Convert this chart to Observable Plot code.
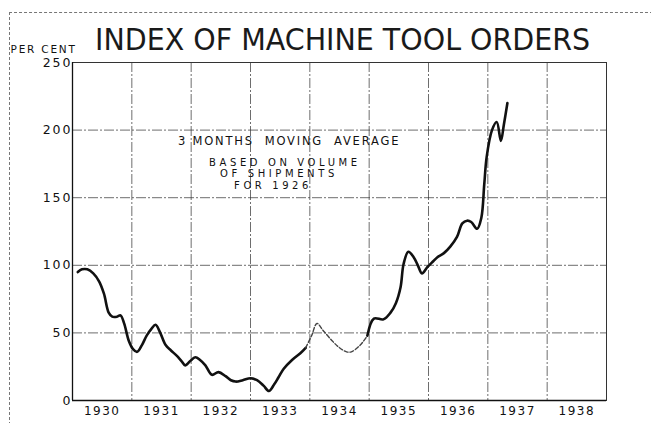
<!DOCTYPE html>
<html><head><meta charset="utf-8">
<script src="https://cdn.jsdelivr.net/npm/d3@7"></script>
<script src="https://cdn.jsdelivr.net/npm/@observablehq/plot@0.6"></script>
<style>
body{margin:0;background:#fff;}
#wrap{position:relative;width:651px;height:423px;overflow:hidden;font-family:"DejaVu Sans",sans-serif;color:#111;background:#fff;}
#border{position:absolute;left:9px;top:12px;right:-2px;bottom:-2px;border-top:1px dashed #777;border-left:1px dashed #777;pointer-events:none;}
#title{height:50px;box-sizing:border-box;padding-top:25px;padding-left:95px;font-size:30px;line-height:30px;white-space:nowrap;color:#1a1a1a;}
#title span{display:inline-block;transform:scaleX(0.95);transform-origin:left center;}
#chart svg{display:block;}
</style></head>
<body><div id="wrap"><div id="border"></div><div id="title"><span>INDEX OF MACHINE TOOL ORDERS</span></div><div id="chart"></div></div>
<script>
// decimal-year positions and index values
const months = [1930.09,1930.16,1930.25,1930.35,1930.45,1930.53,1930.61,1930.67,1930.75,1930.81,1930.87,1930.95,
  1931.02,1931.09,1931.17,1931.25,1931.33,1931.40,1931.47,1931.57,1931.66,1931.76,1931.84,1931.90,1931.98,
  1932.07,1932.15,1932.24,1932.35,1932.46,1932.58,1932.67,1932.75,1932.87,
  1933.00,1933.11,1933.22,1933.31,1933.40,1933.47,1933.56,1933.70,1933.84,1933.93,
  1934.03,1934.12,1934.22,1934.38,1934.50,1934.62,1934.70,1934.85,1934.97,
  1935.08,1935.24,1935.36,1935.45,1935.53,1935.58,1935.66,1935.75,1935.82,1935.89,1935.98,
  1936.08,1936.15,1936.26,1936.37,1936.48,1936.57,1936.65,1936.72,1936.82,1936.89,1936.94,1936.98,
  1937.07,1937.15,1937.22,1937.27,1937.33];
const orders = [95,97,97,94,88,79,65,62,62,63,57,44,
  38,36,41,48,53,56,51,41,37,33,29,26,29,
  32,30,26,19,21,18,15,14,15,
  16.5,15,11,7,12,17,23.5,30,35,39,
  48,57,52,44,39,36,36,41,48,
  60.6,60,65,72,84,101,110,106,100,94,98.6,
  103,106,109,114,121,131,133,132,127,135,160,180,
  200,206,192,204,220];
const dashedStart = 1933.93, dashedEnd = 1934.97;
const yearLabels = ["1930","1931","1932","1933","1934","1935","1936","1937","1938"];
const yTicks = [0,50,100,150,200,250];
const noteHead = ["3 MONTHS  MOVING  AVERAGE"];
const noteBody = ["BASED ON VOLUME","OF SHIPMENTS","FOR 1926"];

const rows = months.map((t,i)=>({t, v: orders[i]}));
const solidA = rows.filter(d=>d.t<=dashedStart);
const dashed = rows.filter(d=>d.t>=dashedStart && d.t<=dashedEnd);
const solidB = rows.filter(d=>d.t>=dashedEnd);
const yearPos = yearLabels.map(y=>+y+0.5);
const bounds = d3.range(1931,1939);

const gridStyle = {stroke:"#333", strokeOpacity:0.8, strokeWidth:0.9, strokeDasharray:"10,2,2,2"};

const chart = Plot.plot({
  width:651, height:373,
  marginTop:12, marginRight:45, marginBottom:23, marginLeft:72,
  x:{domain:[1930,1939], axis:null},
  y:{domain:[0,250], axis:null},
  style:{fontFamily:"DejaVu Sans, sans-serif", fontSize:"12px", color:"#111", background:"transparent", overflow:"visible"},
  marks:[
    Plot.gridX(bounds, gridStyle),
    Plot.gridY([50,100,150,200], gridStyle),
    Plot.frame({stroke:"#333", strokeWidth:1}),
    Plot.ruleX([1930], {stroke:"#111", strokeWidth:1.3}),
    Plot.ruleY([0], {stroke:"#111", strokeWidth:1.3}),
    Plot.axisY(yTicks, {tickSize:0, tickPadding:0, label:null, fontSize:12.5}),
    Plot.axisX(yearPos, {tickSize:0, tickPadding:6, label:null, fontSize:12, tickFormat:(d,i)=>yearLabels[i]}),
    Plot.text(["PER CENT"], {frameAnchor:"top-left", dx:-62, dy:-17, textAnchor:"start", fontSize:10.5}),
    Plot.text(noteHead, {x:()=>1933.65, y:()=>191.5, text:d=>d, fontSize:11.5}),
    Plot.text(noteBody, {x:(d,i)=>1933.58-i*0.1, y:(d,i)=>176-i*8.6, text:d=>d, fontSize:10}),
    Plot.line(solidA, {x:"t", y:"v", curve:"catmull-rom", stroke:"#111", strokeWidth:2.6}),
    Plot.line(dashed, {x:"t", y:"v", curve:"catmull-rom", stroke:"#444", strokeWidth:1.4, strokeDasharray:"4,2"}),
    Plot.line(solidB, {x:"t", y:"v", curve:"catmull-rom", stroke:"#111", strokeWidth:2.6})
  ]
});
document.getElementById("chart").appendChild(chart);
const spacing = (t) => {
  if (noteHead.includes(t)) return "1.8px";
  if (noteBody.includes(t)) return "3.6px";
  if (yearLabels.includes(t)) return "1.5px";
  if (t === "PER CENT") return "1.8px";
  return "2px";
};
d3.select(chart).selectAll("text").each(function(){
  const s = spacing(this.textContent);
  this.setAttribute("letter-spacing", s);
  this.style.letterSpacing = s;
});
</script>
</body></html>
